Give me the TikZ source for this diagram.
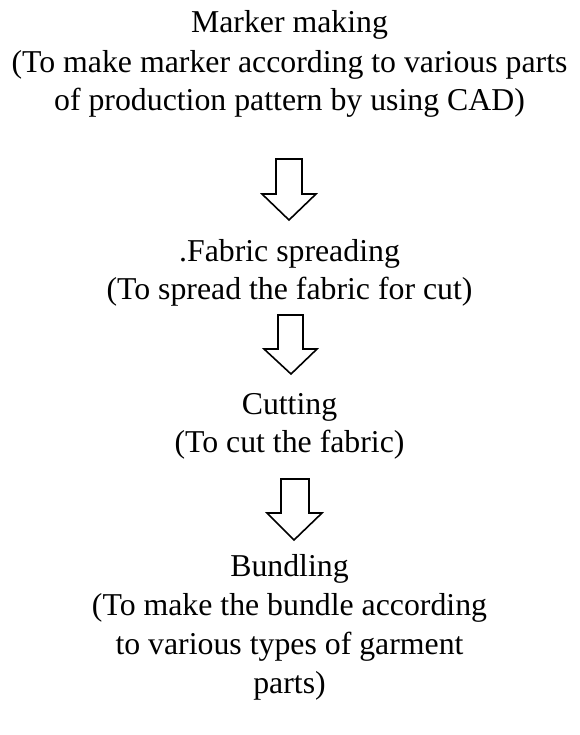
\documentclass[tikz,border=0pt]{standalone}
\usepackage{fontspec}
\setmainfont{Liberation Serif}
\begin{document}
\begin{tikzpicture}[x=1pt,y=-1pt,
  txt/.style={anchor=base,inner sep=0pt,font=\fontsize{31.8}{38}\selectfont},
  blockarrow/.style={draw=black,fill=white,line width=1.6pt,line join=miter}]
\useasboundingbox (0,0) rectangle (579,735);
\node[txt] (m1) at (289.5,33) {Marker making};
\node[txt] (m2) at (289.5,72.5) {(To make marker according to various parts};
\node[txt] (m3) at (289.5,111) {of production pattern by using CAD)};
\node[txt] (f1) at (289.5,261) {.Fabric spreading};
\node[txt] (f2) at (289.5,299.5) {(To spread the fabric for cut)};
\node[txt] (c1) at (289.5,414.5) {Cutting};
\node[txt] (c2) at (289.5,452.5) {(To cut the fabric)};
\node[txt] (b1) at (289.5,576) {Bundling};
\node[txt] (b2) at (289.5,615) {(To make the bundle according};
\node[txt] (b3) at (289.5,654) {to various types of garment};
\node[txt] (b4) at (289.5,693) {parts)};
% block arrows
\draw[blockarrow] (276,159) -- (302,159) -- (302,194) -- (316,194) -- (289,220) -- (262,194) -- (276,194) -- cycle;
\draw[blockarrow] (278,315) -- (303,315) -- (303,349) -- (317,349) -- (291,374) -- (264,349) -- (278,349) -- cycle;
\draw[blockarrow] (281,479) -- (309,479) -- (309,513) -- (322,513) -- (294,540) -- (267,513) -- (281,513) -- cycle;
\end{tikzpicture}
\end{document}
